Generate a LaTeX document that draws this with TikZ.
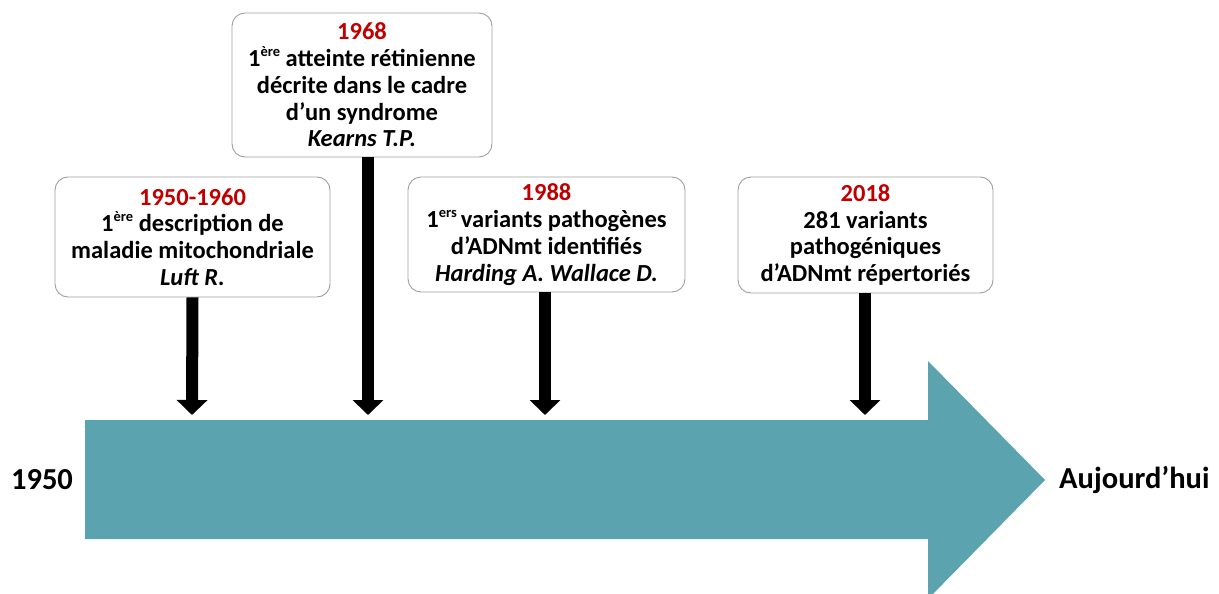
\documentclass[tikz,border=0pt]{standalone}
\usepackage{fontspec}
\setmainfont{Carlito}
\usetikzlibrary{arrows.meta}
\definecolor{teal1}{HTML}{5BA3AF}
\definecolor{red1}{HTML}{C00000}
\newcommand{\supx}[1]{\raisebox{0.42em}{\fontsize{14.5}{14.5}\selectfont #1}}
\begin{document}
\begin{tikzpicture}[x=1pt,y=-1pt,
  evbox/.style={draw=gray!75,line width=0.9pt,rounded corners=13pt,fill=white,
    inner sep=0pt,align=center,font=\fontsize{24.5}{26.8}\selectfont\bfseries},
  tick/.style={line width=12pt,-{Triangle[width=30pt,length=15pt]}},
  endlbl/.style={font=\fontsize{30.5}{34}\selectfont\bfseries,inner sep=0pt}]
\useasboundingbox (0,0) rectangle (1219,594);
% timeline arrow
\fill[teal1] (85,420) -- (928,420) -- (928,361) -- (1045,480) -- (928,599) -- (928,539) -- (85,539) -- cycle;
\node[endlbl] (start) at (42,480) {1950};
\node[endlbl,anchor=west] (end) at (1059,480) {Aujourd’hui};
% boxes
\node[evbox,minimum width=275pt,minimum height=120pt] (b1) at (192.5,237)
  {\textcolor{red1}{1950-1960}\\1\supx{ère} description de\\maladie mitochondriale\\\textit{Luft R.}};
\node[evbox,minimum width=260pt,minimum height=144pt] (b2) at (362,85)
  {\textcolor{red1}{1968}\\1\supx{ère} atteinte rétinienne\\décrite dans le cadre\\d’un syndrome\\\textit{Kearns T.P.}};
\node[evbox,minimum width=277pt,minimum height=115pt] (b3) at (546.5,234.5)
  {\textcolor{red1}{1988}\\1\supx{ers}\,variants pathogènes\\d’ADNmt identifiés\\\textit{Harding A. Wallace D.}};
\node[evbox,minimum width=255pt,minimum height=116pt] (b4) at (865.5,235)
  {\textcolor{red1}{2018}\\281 variants\\pathogéniques\\d’ADNmt répertoriés};
% tick arrows
\coordinate (t1) at (192,415);
\coordinate (t2) at (368,415);
\coordinate (t3) at (545,415);
\coordinate (t4) at (865,415);
\draw[tick] (b1.south) -- (t1);
\draw[tick] (b2.south-|t2) -- (t2);
\draw[tick] (b3.south-|t3) -- (t3);
\draw[tick] (b4.south-|t4) -- (t4);
\end{tikzpicture}
\end{document}
